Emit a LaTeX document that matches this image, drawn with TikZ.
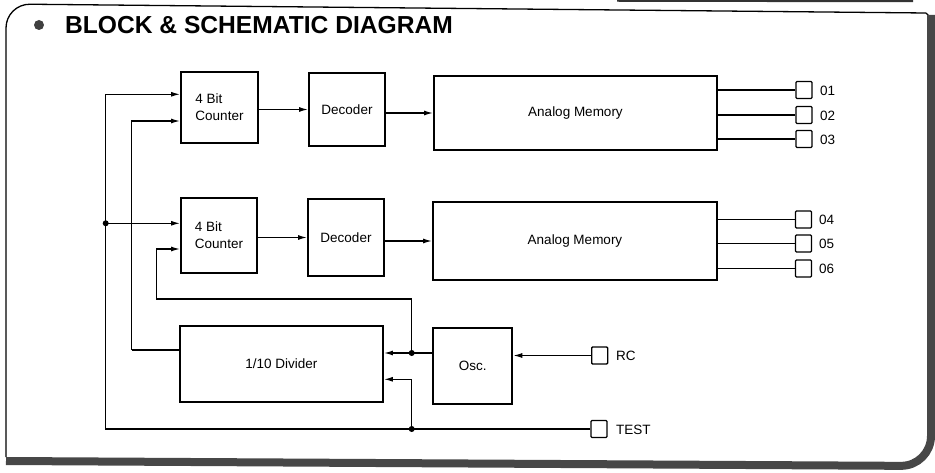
\documentclass[tikz,border=0pt]{standalone}
\usepackage{fontspec}
\setmainfont{Liberation Sans}
\usetikzlibrary{arrows.meta,calc}
\begin{document}
\begin{tikzpicture}[x=1pt,y=-1pt,
  blk/.style={draw, line width=1.9pt, inner sep=0pt, font=\fontsize{13.5}{17}\selectfont, align=center},
  pin/.style={draw, line width=1.4pt, minimum width=16pt, minimum height=17pt, inner sep=0pt, rounded corners=1pt},
  wire/.style={line width=1.3pt},
  arr/.style={wire, -{Latex[length=9pt,width=5pt]}},
  dot/.style={circle, fill, inner sep=0pt, minimum size=6pt},
  lbl/.style={font=\fontsize{13.5}{15}\selectfont, anchor=west, inner sep=0pt},
  frame/.style={line width=1.3pt},
  shadow/.style={line width=8pt, draw=black!72}]
\useasboundingbox (0,0) rectangle (935,473);

% frame
\draw[frame, rounded corners=24pt] (6,457) -- (6,4) -- (926,13);
\draw[frame] (926,13) -- (930,17);
\draw[shadow, rounded corners=30pt] (931,15) -- (931,466) -- (6,461);
\draw[line width=2.5pt, black!80] (617,0.5) -- (913,1);

% title
\node[circle, fill=black!75, minimum size=10pt, inner sep=0pt] (bul) at (39,25) {};
\node[anchor=base west, inner sep=0pt, font=\bfseries\fontsize{24.6}{28}\selectfont] (title) at (65,34) {BLOCK \& SCHEMATIC DIAGRAM};

% blocks
\node[blk, align=left, minimum width=77pt, minimum height=71pt] (c1) at (219.5,107.5) {4 Bit\\Counter};
\node[blk, minimum width=76pt, minimum height=73pt] (d1) at (347,109.5) {Decoder};
\node[blk, minimum width=283pt, minimum height=74pt] (m1) at (575.5,113) {Analog Memory};
\node[blk, align=left, minimum width=76pt, minimum height=75pt] (c2) at (219,235.5) {4 Bit\\Counter};
\node[blk, minimum width=76pt, minimum height=77pt] (d2) at (346,237.5) {Decoder};
\node[blk, minimum width=284pt, minimum height=78pt] (m2) at (575,241) {Analog Memory};
\node[blk, minimum width=203pt, minimum height=76pt] (div) at (281.5,364) {1/10 Divider};
\node[blk, minimum width=79pt, minimum height=76pt] (osc) at (472.8,366) {Osc.};

% pins
\node[pin] (p01) at (804,90) {};
\node[pin] (p02) at (804,115) {};
\node[pin] (p03) at (804,139) {};
\node[pin] (p04) at (803.5,219.5) {};
\node[pin] (p05) at (803.5,243.5) {};
\node[pin] (p06) at (803.5,268.5) {};
\node[pin] (prc) at (599.7,355.5) {};
\node[pin] (ptest) at (599,429) {};
\node[lbl] (l01) at (820,91) {01};
\node[lbl] (l02) at (820,116) {02};
\node[lbl] (l03) at (820,140) {03};
\node[lbl] (l04) at (819,220) {04};
\node[lbl] (l05) at (819,244) {05};
\node[lbl] (l06) at (819,269) {06};
\node[lbl] (lrc) at (616,356) {RC};
\node[lbl] (ltest) at (616,430) {TEST};

% junctions
\node[dot] (j1) at (105.7,223.3) {};
\node[dot] (j2) at (411.7,353) {};
\node[dot] (j3) at (411.7,429) {};
\coordinate (bl) at (105.7,429);
\coordinate (dl) at (131.7,350);
\coordinate (k1) at (411.7,299);
\coordinate (k2) at (156.7,299);

% forward chain
\draw[arr] (c1.east |- d1.west) -- (d1.west);
\draw[arr] (d1.east |- m1.west) -- (m1.west);
\draw[arr] (c2.east |- d2.west) -- (d2.west);
\draw[arr] (d2.east |- m2.west) -- (m2.west);

% outputs
\draw[wire] (m1.east |- p01) -- (p01.west);
\draw[wire] (m1.east |- p02) -- (p02.west);
\draw[wire] (m1.east |- p03) -- (p03.west);
\draw[wire] (m2.east |- p04) -- (p04.west);
\draw[wire] (m2.east |- p05) -- (p05.west);
\draw[wire] (m2.east |- p06) -- (p06.west);

% test bus
\draw[arr] (ptest.west) -- (bl) |- ([yshift=13.2pt]c1.west);
\draw[arr] (j1.center) -- ([yshift=12.2pt]c2.west);
\draw[arr] (j3.center) |- ([yshift=-15.3pt]div.east);

% divider output
\draw[wire] ([yshift=14pt]div.west) -- (dl);
\draw[arr] (dl) |- ([yshift=-13.5pt]c1.west);

% oscillator
\draw[arr] (osc.west |- j2) -- (div.east |- j2);
\draw[arr] (j2.center) -- (k1) -- (k2) |- ([yshift=-13.5pt]c2.west);
\draw[arr] (prc.west) -- (osc.east |- prc.west);
\end{tikzpicture}
\end{document}
